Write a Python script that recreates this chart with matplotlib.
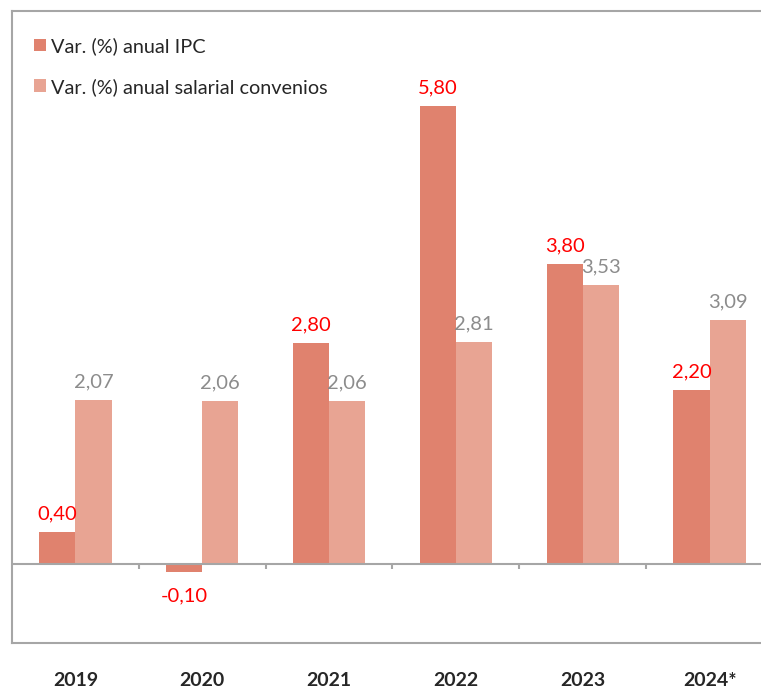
import matplotlib
matplotlib.use('Agg')
import matplotlib.pyplot as plt
import numpy as np

# data
years = ['2019', '2020', '2021', '2022', '2023', '2024*']
ipc = [0.40, -0.10, 2.80, 5.80, 3.80, 2.20]
salarial = [2.07, 2.06, 2.06, 2.81, 3.53, 3.09]
ipc_label = 'Var. (%) anual IPC'
sal_label = 'Var. (%) anual salarial convenios'

c_ipc = '#e0826e'
c_sal = '#e8a493'
grey = '#a6a6a6'

plt.rcParams['font.family'] = ['Lato', 'DejaVu Sans']

fig = plt.figure(figsize=(7.61, 6.88), dpi=100)
ax = fig.add_axes([12/761, 45/688, 761/761, 632/688])

x = np.arange(len(years))
w = 0.285

b1 = ax.bar(x - w/2, ipc, w, color=c_ipc, label=ipc_label)
b2 = ax.bar(x + w/2, salarial, w, color=c_sal, label=sal_label)

def fmt(v):
	return ('%.2f' % v).replace('.', ',')

# data labels
for xi, v in zip(x, ipc):
	if v >= 0:
		ax.annotate(fmt(v), (xi - w/2, v), xytext=(0, 7), textcoords='offset points',
			ha='center', va='bottom', color='#ff0000', fontsize=14.5)
	else:
		ax.annotate(fmt(v), (xi - w/2, v), xytext=(0, -11), textcoords='offset points',
			ha='center', va='top', color='#ff0000', fontsize=14.5)
for xi, v in zip(x, salarial):
	ax.annotate(fmt(v), (xi + w/2, v), xytext=(0, 7), textcoords='offset points',
		ha='center', va='bottom', color='#8c8c8c', fontsize=14.5)

# zero line with category separators
ax.axhline(0, color=grey, linewidth=1.5, zorder=3)
ax.vlines(x[:-1] + 0.5, -0.065, 0, color=grey, linewidth=1.5, zorder=3)

# cosmetics
ax.set_xlim(-0.5, len(years) - 0.5)
ax.set_ylim(-1, 7)
ax.set_yticks([])
ax.set_xticks(x)
ax.set_xticklabels(years, fontsize=14, fontweight='bold', color='#262626')
ax.tick_params(axis='x', length=0, pad=21)
for s in ['left', 'top', 'bottom', 'right']:
	ax.spines[s].set_color(grey)
	ax.spines[s].set_linewidth(1.5)

ax.legend(loc='upper left', bbox_to_anchor=(0.006, 0.987), frameon=False,
	fontsize=14.3, handlelength=0.6, handleheight=0.6, handletextpad=0.25,
	labelspacing=1.15, labelcolor='#262626')

fig.savefig('out.png', dpi=100)
plt.close(fig)
